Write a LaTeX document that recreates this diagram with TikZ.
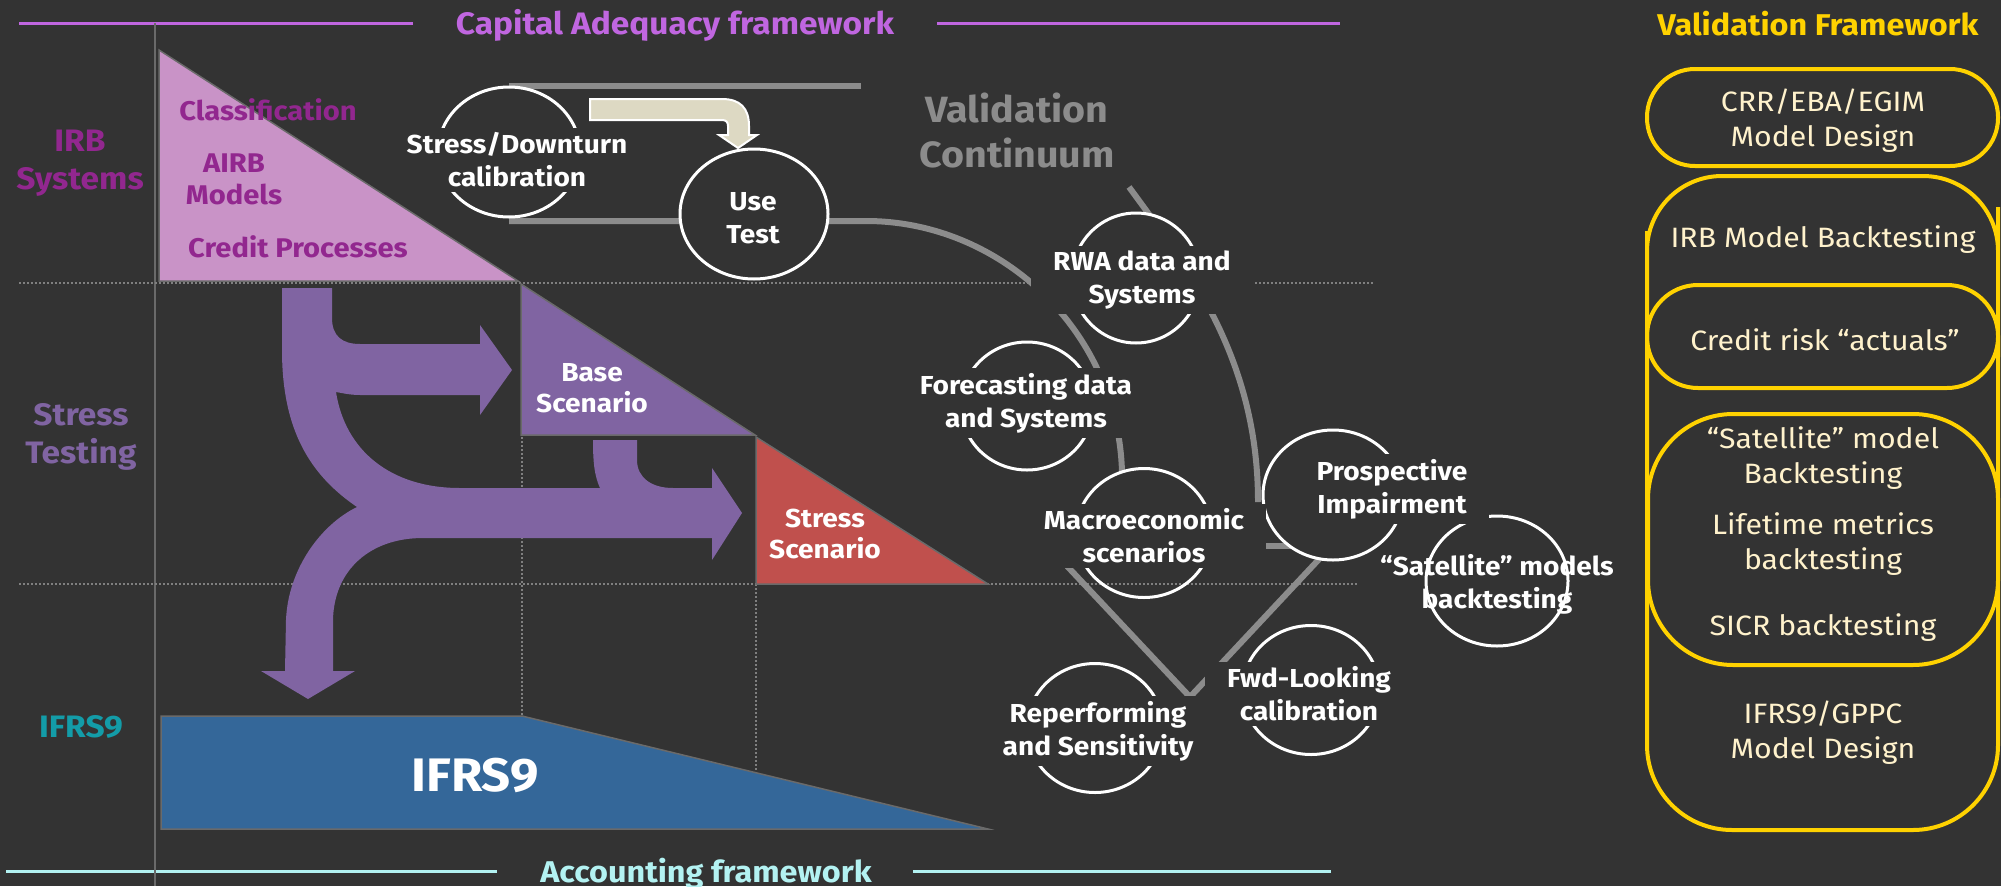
\documentclass[tikz,border=0pt]{standalone}
\usepackage{fontspec}
\setmainfont[FakeStretch=1.08]{Fira Sans}
\usetikzlibrary{shapes.geometric}

\definecolor{bgdark}{HTML}{333333}
\definecolor{capviolet}{HTML}{C066E0}
\definecolor{acccyan}{HTML}{B3F2F2}
\definecolor{irbpink}{HTML}{C993C7}
\definecolor{irbtext}{HTML}{92278F}
\definecolor{stpurple}{HTML}{8064A2}
\definecolor{stressred}{HTML}{C0504D}
\definecolor{ifrsblue}{HTML}{346799}
\definecolor{ifrsteal}{HTML}{139CA8}
\definecolor{trackgray}{HTML}{8C8C8C}
\definecolor{gridgray}{HTML}{808080}
\definecolor{edgegray}{HTML}{6A6A6A}
\definecolor{valyellow}{HTML}{FFD200}
\definecolor{valcream}{HTML}{FFF2CC}
\definecolor{beige}{HTML}{DDD9C3}

\newcommand{\bft}[2]{\fontsize{#1}{#2}\selectfont\bfseries}

\begin{document}
\begin{tikzpicture}[
    x=1pt, y=-1pt,
    grid/.style={gridgray, line width=2pt, dash pattern=on 2pt off 2pt},
    frameline/.style={line width=3pt},
    zone/.style={draw=edgegray, line width=1.5pt},
    track/.style={trackgray, line width=6pt},
    ring/.style={ellipse, draw=white, fill=bgdark, line width=3pt, inner sep=0pt},
    ringtext/.style={fill=bgdark, text=white, align=center, inner xsep=22pt, inner ysep=5pt, font=\bft{26}{33}},
    sidelabel/.style={align=center, font=\bft{31}{38}},
    zonetext/.style={align=center, font=\bft{27}{32}},
    valbox/.style={draw=valyellow, line width=4pt},
    valtext/.style={text=valcream, align=center, font=\fontsize{28}{35}\selectfont}
]
    \useasboundingbox (0,0) rectangle (2001,886);
    \fill[bgdark] (0,0) rectangle (2001,886);

    % frameworks
    \draw[capviolet, frameline] (19,23) -- (413,23);
    \draw[capviolet, frameline] (937,23) -- (1340,23);
    \node[anchor=base, text=capviolet, font=\bft{31}{36}] (captitle) at (675,34) {Capital Adequacy framework};
    \draw[acccyan, frameline] (6,871) -- (497,871);
    \draw[acccyan, frameline] (913,871) -- (1331,871);
    \node[anchor=base, text=acccyan, font=\bft{30}{36}] (acctitle) at (706,882) {Accounting framework};
    \node[anchor=base, text=valyellow, font=\bft{30}{36}] (valtitle) at (1818,35) {Validation Framework};

    \draw[edgegray, line width=2pt] (155,23) -- (155,886);
    \draw[grid] (19,283) -- (1374,283);
    \draw[grid] (19,584) -- (1357,584);
    \draw[grid] (522,437) -- (522,716);
    \draw[grid] (756,584) -- (756,770);

    \node[sidelabel, text=irbtext] (irbside) at (80,163) {IRB\\Systems};
    \node[sidelabel, text=stpurple] (stside) at (81,437) {Stress\\Testing};
    \node[sidelabel, text=ifrsteal] (ifrsside) at (81,727) {IFRS9};

    % zones
    \filldraw[zone, fill=irbpink] (159,50) -- (518,281) -- (159,281) -- cycle;
    \filldraw[zone, fill=stpurple] (521,284) -- (755,435) -- (521,435) -- cycle;
    \filldraw[zone, fill=stressred] (756,437) -- (988,584) -- (756,584) -- cycle;
    \filldraw[zone, fill=ifrsblue] (161,716) -- (522,716) -- (988,829) -- (161,829) -- cycle;

    \fill[stpurple] (282,288) -- (332,288) -- (332,318) .. controls (332,336) and (342,344) .. (360,344)
        -- (480,344) -- (480,325) -- (512,370) -- (480,415) -- (480,395) -- (360,395)
        .. controls (350,395) and (342,393) .. (336,392) .. controls (345,450) and (390,488) .. (460,488)
        -- (600,488) .. controls (594,475) and (593,460) .. (593,440) -- (637,440) -- (637,460)
        .. controls (637,478) and (652,488) .. (673,488) -- (712,488) -- (712,468) -- (742,513)
        -- (712,560) -- (712,538) -- (423,538) .. controls (370,538) and (334,570) .. (333,620)
        -- (333,671) -- (355,671) -- (308,699) -- (261,671) -- (285,671) -- (286,620)
        .. controls (288,570) and (320,525) .. (357,507) .. controls (310,475) and (282,430) .. (282,350) -- cycle;

    \node[zonetext, text=irbtext] (classif) at (268,110) {Classification};
    \node[zonetext, text=irbtext] (airb) at (234,179) {AIRB\\Models};
    \node[zonetext, text=irbtext] (credproc) at (298,247) {Credit Processes};
    \node[text=white, align=center, font=\bft{26}{31}] (basescen) at (592,388) {Base\\Scenario};
    \node[text=white, align=center, font=\bft{26}{31}] (stressscen) at (825,534) {Stress\\Scenario};
    \node[text=white, font=\bft{47}{56}] (ifrsbig) at (475,775) {IFRS9};

    % validation continuum
    \node[text=trackgray, align=center, font=\bft{36.5}{45}] (contin) at (1017,131) {Validation\\Continuum};
    \draw[track] (509,86) -- (861,86);
    \draw[track] (509,221) -- (866,221) .. controls (1000,221) and (1118,330) .. (1122,472);
    \draw[track] (1129,187) .. controls (1190,270) and (1258,360) .. (1258,502);
    \draw[track] (1262,546) -- (1300,546);
    \draw[track] (1067,566) -- (1190,697) -- (1322,556);

    \node[ring, minimum width=142pt, minimum height=130pt] (sdring) at (509,152) {};
    \node[ring, minimum width=148pt, minimum height=130pt] (usering) at (754,214) {};
    \node[ring, minimum width=128pt, minimum height=130pt] (rwaring) at (1136,278) {};
    \node[ring, minimum width=132pt, minimum height=128pt] (fcring) at (1027,406) {};
    \node[ring, fill=none, minimum width=136pt, minimum height=129pt] (macroring) at (1144,533) {};
    \node[ring, minimum width=140pt, minimum height=130pt] (prospring) at (1333,495) {};
    \node[ring, minimum width=142pt, minimum height=130pt] (satring) at (1497,581) {};
    \node[ring, minimum width=137pt, minimum height=129pt] (fwdring) at (1311,690) {};
    \node[ring, minimum width=136pt, minimum height=129pt] (repring) at (1095,728) {};

    \node[ringtext] (sdtext) at (517,160) {Stress/Downturn\\calibration};
    \node[ringtext, inner xsep=4pt] (usetext) at (753,218) {Use\\Test};
    \node[ringtext] (rwatext) at (1142,280) {RWA data and\\Systems};
    \node[ringtext] (fctext) at (1026,403) {Forecasting data\\and Systems};
    \node[ringtext] (macrotext) at (1144,536) {Macroeconomic\\scenarios};
    \node[ringtext] (prosptext) at (1392,489) {Prospective\\Impairment};
    \node[ringtext, fill=none] (sattext) at (1497,584) {“Satellite” models\\backtesting};
    \node[ringtext] (fwdtext) at (1309,694) {Fwd-Looking\\calibration};
    \node[ringtext] (reptext) at (1098,731) {Reperforming\\and Sensitivity};

    \filldraw[fill=beige, draw=white, line width=2pt] (590,99) -- (722,99) .. controls (740,99) and (749,108) .. (749,126)
        -- (749,135) -- (757,135) -- (738,148) -- (719,135) -- (728,135) -- (728,126)
        .. controls (728,122) and (726,120) .. (722,120) -- (590,120) -- cycle;

    % validation framework
    \draw[valbox, rounded corners=48pt] (1647,69) rectangle (1998,166);
    \draw[valbox] (1647,282) [rounded corners=75pt] -- (1647,176) -- (1998,176) -- (1998,282)
        [rounded corners=51pt] -- (1998,388) -- (1647,388) -- cycle;
    \draw[valbox] (1647,560) [rounded corners=51pt] -- (1647,285) -- (1998,285) -- (1998,560)
        [rounded corners=85pt] -- (1998,830) -- (1647,830) -- cycle;
    \draw[valbox, rounded corners=85pt] (1648,414) rectangle (1998,665);

    \node[valtext] (crr) at (1823,121) {CRR/EBA/EGIM\\Model Design};
    \node[valtext] (irbbt) at (1823,240) {IRB Model Backtesting};
    \node[valtext] (actuals) at (1825,340) {Credit risk “actuals”};
    \node[valtext] (satbt) at (1823,458) {“Satellite” model\\Backtesting};
    \node[valtext] (lifetime) at (1823,544) {Lifetime metrics\\backtesting};
    \node[valtext] (sicr) at (1823,628) {SICR backtesting};
    \node[valtext] (gppc) at (1823,733) {IFRS9/GPPC\\Model Design};
\end{tikzpicture}
\end{document}
